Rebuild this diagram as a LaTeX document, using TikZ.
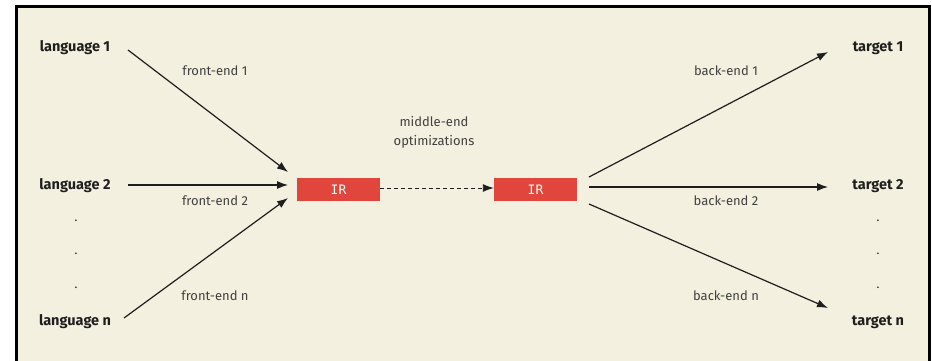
\documentclass[tikz,border=0pt]{standalone}
\usepackage{fontspec}
\setmainfont{Fira Sans}
\newfontfamily\monof{DejaVu Sans Mono}
\usetikzlibrary{arrows.meta}
\definecolor{cream}{HTML}{F3F0DF}
\definecolor{irred}{HTML}{E0463B}
\definecolor{ink}{HTML}{1E1E1E}
\tikzset{
  lang/.style={font=\fontsize{14.5}{16}\selectfont\bfseries, text=ink, inner sep=0pt},
  lbl/.style={font=\fontsize{13}{15}\selectfont, text=ink!85, inner sep=0pt},
  dotn/.style={font=\fontsize{12}{12}\selectfont, text=ink, inner sep=0pt},
  irbox/.style={fill=irred, minimum width=83pt, minimum height=23pt, inner sep=0pt, text=white, font=\monof\fontsize{13}{14}\selectfont},
  arr/.style={draw=ink, line width=1.2pt, -{Latex[length=11pt,width=8pt]}},
}
\begin{document}
\begin{tikzpicture}[x=1pt,y=-1pt]
\useasboundingbox (0,0) rectangle (932,361);
\fill[white] (0,0) rectangle (932,361);
\fill[cream] (17,7) rectangle (929,361);
\draw[line width=3pt] (16.5,361) -- (16.5,6.5) -- (929.5,6.5) -- (929.5,361);

\node[lang] (l1) at (75,48) {language 1};
\node[lang] (l2) at (75,186) {language 2};
\node[lang] (ln) at (75,322) {language n};
\node[dotn] (ld1) at (76,221) {.};
\node[dotn] (ld2) at (76,254) {.};
\node[dotn] (ld3) at (76,288) {.};

\node[lang] (t1) at (878,48) {target 1};
\node[lang] (t2) at (878,186) {target 2};
\node[lang] (tn) at (878,322) {target n};
\node[dotn] (td1) at (878,221) {.};
\node[dotn] (td2) at (878,254) {.};
\node[dotn] (td3) at (878,288) {.};

\node[irbox] (ir1) at (338.5,189.5) {IR};
\node[irbox] (ir2) at (535.5,189.5) {IR};

\coordinate (f1s) at (128,50);
\coordinate (f2s) at (128,185);
\coordinate (fns) at (124,318);
\coordinate (f1e) at (288,172);
\coordinate (f2e) at (288,185);
\coordinate (fne) at (288,198);
\coordinate (b1s) at (589,177);
\coordinate (b2s) at (589,187);
\coordinate (bns) at (589,204);
\coordinate (b1e) at (828,52);
\coordinate (b2e) at (828,187);
\coordinate (bne) at (828,308);

\draw[arr] (f1s) -- (f1e);
\draw[arr] (f2s) -- (f2e);
\draw[arr] (fns) -- (fne);
\draw[arr] (b1s) -- (b1e);
\draw[arr] (b2s) -- (b2e);
\draw[arr] (bns) -- (bne);
\draw[arr, line width=0.9pt, dash pattern=on 4pt off 3pt] (ir1.east |- 0,188) -- (ir2.west |- 0,188);

\node[lbl] (fe1) at (215,71) {front-end 1};
\node[lbl] (fe2) at (215,201) {front-end 2};
\node[lbl] (fen) at (215,296) {front-end n};
\node[lbl] (be1) at (726,71) {back-end 1};
\node[lbl] (be2) at (726,201) {back-end 2};
\node[lbl] (ben) at (726,296) {back-end n};
\node[lbl, align=center, font=\fontsize{13}{19}\selectfont] (mid) at (434,132) {middle-end\\optimizations};
\end{tikzpicture}
\end{document}
